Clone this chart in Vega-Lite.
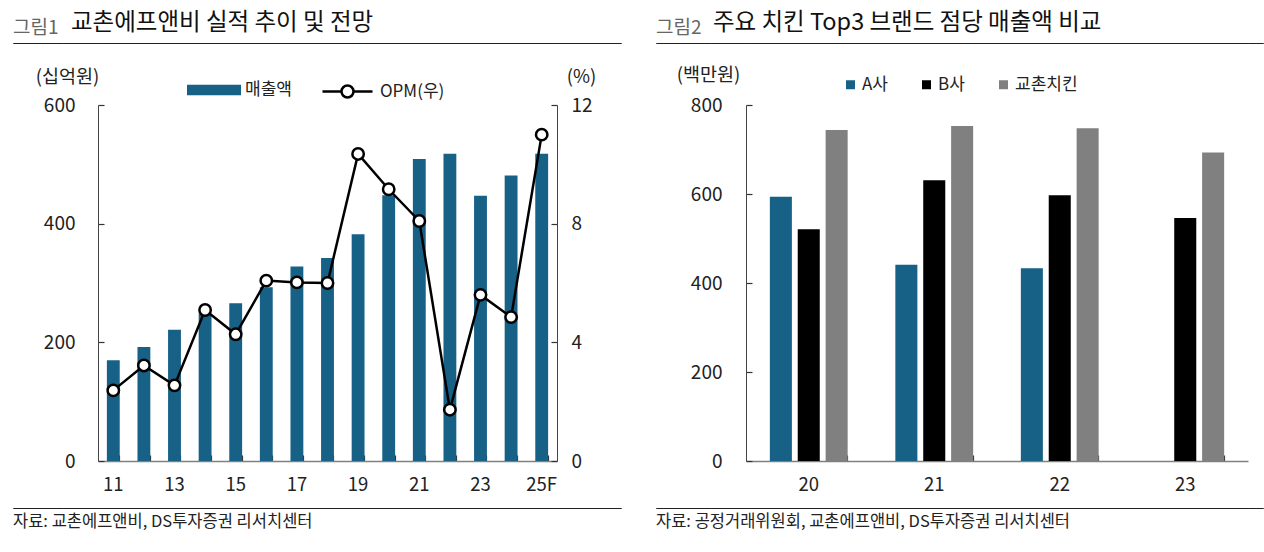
{
  "$schema": "https://vega.github.io/schema/vega-lite/v6.json",
  "padding": {"left": 12, "top": 10, "right": 0, "bottom": 0},
  "background": "white",
  "config": {
    "font": "Noto Sans CJK KR",
    "view": {"stroke": null},
    "axis": {"labelFont": "Noto Sans CJK KR", "titleFont": "Noto Sans CJK KR", "labelColor": "#222", "titleColor": "#222", "grid": false, "labelFontSize": 19, "titleFontSize": 18.5, "titleFontWeight": "normal"},
    "legend": {"labelFont": "Noto Sans CJK KR", "labelFontSize": 17, "labelColor": "#222", "title": null},
    "title": {"font": "Noto Sans CJK KR", "fontWeight": "normal"}
  },
  "columns": 9,
  "align": "each",
  "bounds": "flush",
  "spacing": {"row": 0, "column": 0},
  "resolve": {"scale": {"color": "independent", "fill": "independent", "stroke": "independent"}},
  "concat": [
    {"width": 50, "height": 0.01, "view": {"stroke": "#222", "strokeWidth": 1}, "title": {"text": "그림1", "anchor": "start", "orient": "top", "fontSize": 19, "color": "#666", "offset": -10, "baseline": "alphabetic"}, "data": {"values": []}, "mark": "point", "encoding": {}},
    {"width": 35, "height": 0.01, "view": {"stroke": "#222", "strokeWidth": 1}, "title": {"text": "교촌에프앤비 실적 추이 및 전망", "anchor": "start", "orient": "top", "fontSize": 23.5, "color": "#111", "offset": -10, "dx": 8, "baseline": "alphabetic"}, "data": {"values": []}, "mark": "point", "encoding": {}},
    {"width": 459, "height": 0.01, "view": {"stroke": "#222", "strokeWidth": 1}, "data": {"values": []}, "mark": "point", "encoding": {}},
    {"width": 64, "height": 0.01, "view": {"stroke": "#222", "strokeWidth": 1}, "data": {"values": []}, "mark": "point", "encoding": {}},
    {"width": 35, "height": 0.01, "data": {"values": []}, "mark": "point", "encoding": {}},
    {"width": 55, "height": 0.01, "view": {"stroke": "#222", "strokeWidth": 1}, "title": {"text": "그림2", "anchor": "start", "orient": "top", "fontSize": 19, "color": "#666", "offset": -10, "baseline": "alphabetic"}, "data": {"values": []}, "mark": "point", "encoding": {}},
    {"width": 35, "height": 0.01, "view": {"stroke": "#222", "strokeWidth": 1}, "title": {"text": "주요 치킨 Top3 브랜드 점당 매출액 비교", "anchor": "start", "orient": "top", "fontSize": 23.5, "color": "#111", "offset": -10, "dx": 2, "baseline": "alphabetic"}, "data": {"values": []}, "mark": "point", "encoding": {}},
    {"width": 502, "height": 0.01, "view": {"stroke": "#222", "strokeWidth": 1}, "data": {"values": []}, "mark": "point", "encoding": {}},
    {"width": 15, "height": 0.01, "view": {"stroke": "#222", "strokeWidth": 1}, "data": {"values": []}, "mark": "point", "encoding": {}},

    {"width": 1, "height": 61, "data": {"values": []}, "mark": "point", "encoding": {}},
    {"width": 1, "height": 61, "data": {"values": []}, "mark": "point", "encoding": {}},
    {"width": 1, "height": 61, "data": {"values": []}, "mark": "point", "encoding": {}},
    {"width": 1, "height": 61, "data": {"values": []}, "mark": "point", "encoding": {}},
    {"width": 1, "height": 61, "data": {"values": []}, "mark": "point", "encoding": {}},
    {"width": 1, "height": 61, "data": {"values": []}, "mark": "point", "encoding": {}},
    {"width": 1, "height": 61, "data": {"values": []}, "mark": "point", "encoding": {}},
    {"width": 1, "height": 61, "data": {"values": []}, "mark": "point", "encoding": {}},
    {"width": 1, "height": 61, "data": {"values": []}, "mark": "point", "encoding": {}},

    {"width": 1, "height": 1, "data": {"values": []}, "mark": "point", "encoding": {}},
    {"width": 1, "height": 1, "data": {"values": []}, "mark": "point", "encoding": {}},
    {
      "width": 459,
      "height": 356,
      "data": {"values": [
        {"year": "11", "sales": 170, "opm": 2.38},
        {"year": "12", "sales": 192, "opm": 3.22},
        {"year": "13", "sales": 221, "opm": 2.55},
        {"year": "14", "sales": 248, "opm": 5.09},
        {"year": "15", "sales": 266, "opm": 4.27},
        {"year": "16", "sales": 293, "opm": 6.08},
        {"year": "17", "sales": 328, "opm": 6.02},
        {"year": "18", "sales": 342, "opm": 6.0},
        {"year": "19", "sales": 382, "opm": 10.35},
        {"year": "20", "sales": 448, "opm": 9.16},
        {"year": "21", "sales": 509, "opm": 8.09},
        {"year": "22", "sales": 518, "opm": 1.73},
        {"year": "23", "sales": 447, "opm": 5.6},
        {"year": "24", "sales": 481, "opm": 4.85},
        {"year": "25F", "sales": 518, "opm": 11.0}
      ]},
      "resolve": {"scale": {"y": "independent"}},
      "layer": [
        {
          "mark": {"type": "bar"},
          "encoding": {
            "x": {"field": "year", "type": "nominal", "sort": null, "scale": {"paddingInner": 0.58, "paddingOuter": 0.29},
              "axis": {"title": null, "bandPosition": 1, "tickSize": -6, "tickWidth": 1.2, "tickColor": "#333", "domainColor": "#808080", "domainWidth": 1.5, "labelAngle": 0, "labelPadding": 20, "labelFontSize": 18.5, "labelOverlap": false,
                "labelExpr": "indexof(['11','13','15','17','19','21','23','25F'], datum.value) >= 0 ? datum.label : ''"}},
            "y": {"field": "sales", "type": "quantitative", "scale": {"domain": [0, 600]},
              "axis": {"orient": "left", "values": [0, 200, 400, 600], "title": "(십억원)", "titleAngle": 0, "titleAlign": "center", "titleBaseline": "middle", "titleX": -31, "titleY": -29, "labelPadding": 29, "tickSize": -6, "tickWidth": 1.2, "domainColor": "#444", "tickColor": "#333"}},
            "fill": {"datum": "매출액", "scale": {"range": ["#176086"]},
              "legend": {"orient": "none", "legendX": 89, "legendY": -42, "symbolType": "M-1,-0.19H1V0.19H-1Z", "symbolSize": 2916, "symbolStrokeWidth": 0, "labelOffset": 4}}
          }
        },
        {
          "layer": [
            {
              "mark": {"type": "line", "strokeWidth": 2.5},
              "encoding": {
                "x": {"field": "year", "type": "nominal", "sort": null},
                "y": {"field": "opm", "type": "quantitative", "scale": {"domain": [0, 12]},
                  "axis": {"orient": "right", "values": [0, 4, 8, 12], "title": "(%)", "titleAngle": 0, "titleAlign": "center", "titleBaseline": "middle", "titleX": 24, "titleY": -29, "labelPadding": 20, "tickSize": -6, "tickWidth": 1.2, "domainColor": "#444", "tickColor": "#333"}},
                "stroke": {"datum": "OPM(우)", "scale": {"range": ["#000000"]},
                  "legend": {"orient": "none", "legendX": 223, "legendY": -40, "symbolType": "M-1,0H-0.24M0.24,0H1M-0.24,0A0.24,0.24,0,1,1,0.24,0A0.24,0.24,0,1,1,-0.24,0", "symbolSize": 2500, "symbolStrokeWidth": 2.5, "symbolFillColor": "#ffffff", "labelOffset": 6}}
              }
            },
            {
              "mark": {"type": "point", "shape": "circle", "filled": true, "fill": "#ffffff", "stroke": "#000000", "strokeWidth": 2.5, "size": 130, "opacity": 1},
              "encoding": {
                "x": {"field": "year", "type": "nominal", "sort": null},
                "y": {"field": "opm", "type": "quantitative"}
              }
            }
          ]
        }
      ]
    },
    {"width": 1, "height": 1, "data": {"values": []}, "mark": "point", "encoding": {}},
    {"width": 1, "height": 1, "data": {"values": []}, "mark": "point", "encoding": {}},
    {"width": 1, "height": 1, "data": {"values": []}, "mark": "point", "encoding": {}},
    {"width": 1, "height": 1, "data": {"values": []}, "mark": "point", "encoding": {}},
    {
      "width": 502,
      "height": 356,
      "data": {"values": [
        {"year": "20", "brand": "A사", "v": 594},
        {"year": "20", "brand": "B사", "v": 521},
        {"year": "20", "brand": "교촌치킨", "v": 744},
        {"year": "21", "brand": "A사", "v": 441},
        {"year": "21", "brand": "B사", "v": 631},
        {"year": "21", "brand": "교촌치킨", "v": 753},
        {"year": "22", "brand": "A사", "v": 433},
        {"year": "22", "brand": "B사", "v": 597},
        {"year": "22", "brand": "교촌치킨", "v": 748},
        {"year": "23", "brand": "B사", "v": 546},
        {"year": "23", "brand": "교촌치킨", "v": 693}
      ]},
      "mark": {"type": "bar"},
      "encoding": {
        "x": {"field": "year", "type": "nominal", "sort": ["20", "21", "22", "23"], "scale": {"domain": ["20", "21", "22", "23"], "paddingInner": 0.38, "paddingOuter": 0.19},
          "axis": {"title": null, "bandPosition": 1, "tickSize": -6, "tickWidth": 1.2, "tickColor": "#333", "domainColor": "#808080", "domainWidth": 1.5, "labelAngle": 0, "labelPadding": 20, "labelFontSize": 18.5}},
        "xOffset": {"field": "brand", "type": "nominal", "sort": ["A사", "B사", "교촌치킨"], "scale": {"domain": ["A사", "B사", "교촌치킨"], "paddingInner": 0.21}},
        "y": {"field": "v", "type": "quantitative", "scale": {"domain": [0, 800]},
          "axis": {"values": [0, 200, 400, 600, 800], "title": "(백만원)", "titleAngle": 0, "titleAlign": "center", "titleBaseline": "middle", "titleX": -38, "titleY": -31, "labelPadding": 30, "tickSize": -6, "tickWidth": 1.2, "domainColor": "#444", "tickColor": "#333"}},
        "color": {"field": "brand", "type": "nominal", "sort": ["A사", "B사", "교촌치킨"], "scale": {"domain": ["A사", "B사", "교촌치킨"], "range": ["#176086", "#000000", "#808080"]},
          "legend": {"orient": "none", "legendX": 96, "legendY": -29, "direction": "horizontal", "symbolType": "square", "symbolSize": 81, "symbolStrokeWidth": 0, "labelOffset": 3, "columnPadding": 30}}
      }
    },
    {"width": 1, "height": 1, "data": {"values": []}, "mark": "point", "encoding": {}},

    {"width": 1, "height": 47, "data": {"values": []}, "mark": "point", "encoding": {}},
    {"width": 1, "height": 47, "data": {"values": []}, "mark": "point", "encoding": {}},
    {"width": 1, "height": 47, "data": {"values": []}, "mark": "point", "encoding": {}},
    {"width": 1, "height": 47, "data": {"values": []}, "mark": "point", "encoding": {}},
    {"width": 1, "height": 47, "data": {"values": []}, "mark": "point", "encoding": {}},
    {"width": 1, "height": 47, "data": {"values": []}, "mark": "point", "encoding": {}},
    {"width": 1, "height": 47, "data": {"values": []}, "mark": "point", "encoding": {}},
    {"width": 1, "height": 47, "data": {"values": []}, "mark": "point", "encoding": {}},
    {"width": 1, "height": 47, "data": {"values": []}, "mark": "point", "encoding": {}},

    {"width": 50, "height": 0.01, "view": {"stroke": "#222", "strokeWidth": 1}, "title": {"text": "자료: 교촌에프앤비, DS투자증권 리서치센터", "anchor": "start", "orient": "bottom", "fontSize": 16.5, "color": "#222", "offset": 6}, "data": {"values": []}, "mark": "point", "encoding": {}},
    {"width": 35, "height": 0.01, "view": {"stroke": "#222", "strokeWidth": 1}, "data": {"values": []}, "mark": "point", "encoding": {}},
    {"width": 459, "height": 0.01, "view": {"stroke": "#222", "strokeWidth": 1}, "data": {"values": []}, "mark": "point", "encoding": {}},
    {"width": 64, "height": 0.01, "view": {"stroke": "#222", "strokeWidth": 1}, "data": {"values": []}, "mark": "point", "encoding": {}},
    {"width": 35, "height": 0.01, "data": {"values": []}, "mark": "point", "encoding": {}},
    {"width": 55, "height": 0.01, "view": {"stroke": "#222", "strokeWidth": 1}, "title": {"text": "자료: 공정거래위원회, 교촌에프앤비, DS투자증권 리서치센터", "anchor": "start", "orient": "bottom", "fontSize": 16.5, "color": "#222", "offset": 6}, "data": {"values": []}, "mark": "point", "encoding": {}},
    {"width": 35, "height": 0.01, "view": {"stroke": "#222", "strokeWidth": 1}, "data": {"values": []}, "mark": "point", "encoding": {}},
    {"width": 502, "height": 0.01, "view": {"stroke": "#222", "strokeWidth": 1}, "data": {"values": []}, "mark": "point", "encoding": {}},
    {"width": 15, "height": 0.01, "view": {"stroke": "#222", "strokeWidth": 1}, "data": {"values": []}, "mark": "point", "encoding": {}}
  ]
}
